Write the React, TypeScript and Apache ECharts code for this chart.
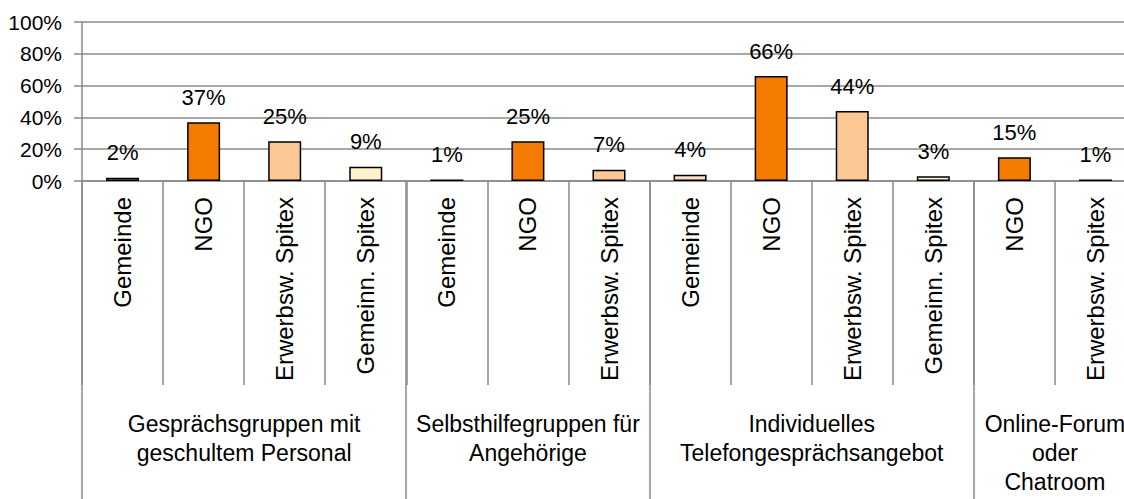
import React, { useEffect, useRef } from "react";
import * as echarts from "echarts";

const subCategories = [
  "Gemeinde", "NGO", "Erwerbsw. Spitex", "Gemeinn. Spitex",
  "Gemeinde", "NGO", "Erwerbsw. Spitex",
  "Gemeinde", "NGO", "Erwerbsw. Spitex", "Gemeinn. Spitex",
  "NGO", "Erwerbsw. Spitex",
];
const values = [2, 37, 25, 9, 1, 25, 7, 4, 66, 44, 3, 15, 1];
const groupNames = [
  "Gesprächsgruppen mit\ngeschultem Personal",
  "Selbsthilfegruppen für\nAngehörige",
  "Individuelles\nTelefongesprächsangebot",
  "Online-Forum\noder\nChatroom",
];
const groupSizes = [4, 3, 4, 2];
const yTicks = [0, 20, 40, 60, 80, 100];
const colorBySub: Record<string, string> = {
  "Gemeinde": "#FDDFC6",
  "NGO": "#F57A00",
  "Erwerbsw. Spitex": "#FBC793",
  "Gemeinn. Spitex": "#FFF1C9",
};

const FONT = "Liberation Sans, Arial, sans-serif";
const GREY = "#8a8a8a";

export default function App() {
  const ref = useRef<HTMLDivElement>(null);
  useEffect(() => {
    if (!ref.current) return;
    const chart = echarts.init(ref.current, undefined, { renderer: "svg" });
    chart.setOption({
      animation: false,
      textStyle: { fontFamily: FONT },
      grid: { left: 82, top: 22, bottom: 318, right: 14, containLabel: false },
      xAxis: {
        type: "category",
        data: subCategories,
        axisLine: { lineStyle: { color: GREY, width: 1.5 } },
        axisTick: {
          show: true,
          interval: 0,
          alignWithLabel: false,
          length: 204,
          lineStyle: { color: GREY, width: 1.5 },
        },
        axisLabel: {
          interval: 0,
          rotate: 90,
          margin: 16,
          fontSize: 24,
          color: "#000",
          fontFamily: FONT,
        },
      },
      yAxis: {
        type: "value",
        min: yTicks[0],
        max: yTicks[yTicks.length - 1],
        interval: 20,
        axisLine: { show: true, lineStyle: { color: GREY, width: 1.5 } },
        axisTick: { show: true, length: 8, lineStyle: { color: GREY, width: 1.5 } },
        splitLine: { lineStyle: { color: GREY, width: 1.5 } },
        axisLabel: {
          formatter: "{value}%",
          fontSize: 21,
          color: "#000",
          margin: 20,
          fontFamily: FONT,
        },
      },
      series: [
        {
          type: "bar",
          barWidth: 33,
          data: values.map((v, i) => ({
            value: v,
            itemStyle: {
              color: colorBySub[subCategories[i]],
              borderColor: "#000",
              borderWidth: 1.5,
            },
          })),
          label: {
            show: true,
            position: "top",
            distance: 14,
            formatter: "{c}%",
            fontSize: 22,
            color: "#000",
            fontFamily: FONT,
          },
        },
      ],
    });

    const x0 = chart.convertToPixel({ xAxisIndex: 0 }, 0) as number;
    const x1 = chart.convertToPixel({ xAxisIndex: 0 }, 1) as number;
    const w = x1 - x0;
    const yBase = chart.convertToPixel({ yAxisIndex: 0 }, 0) as number;
    const graphics: any[] = [];
    let start = 0;
    const boundaries: number[] = [0];
    groupSizes.forEach((s) => {
      start += s;
      boundaries.push(start);
    });
    boundaries.forEach((b) => {
      const x = Math.round(x0 - w / 2 + b * w);
      graphics.push({
        type: "line",
        shape: { x1: x, y1: yBase, x2: x, y2: 520 },
        style: { stroke: GREY, lineWidth: 1.5 },
        silent: true,
      });
    });
    groupNames.forEach((name, gi) => {
      const a = boundaries[gi];
      const b = boundaries[gi + 1];
      const cx = x0 - w / 2 + ((a + b) / 2) * w;
      graphics.push({
        type: "text",
        x: cx,
        y: 409,
        style: {
          text: name,
          fontSize: 23,
          fontFamily: FONT,
          fill: "#000",
          align: "center",
          verticalAlign: "top",
          lineHeight: 29,
        },
        silent: true,
      });
    });
    chart.setOption({ graphic: graphics });

    return () => chart.dispose();
  }, []);

  return (
    <div
      style={{
        position: "fixed",
        left: 0,
        top: 0,
        width: 1124,
        height: 499,
        overflow: "hidden",
        background: "#fff",
      }}
    >
      <div ref={ref} style={{ width: 1150, height: 499 }} />
    </div>
  );
}
